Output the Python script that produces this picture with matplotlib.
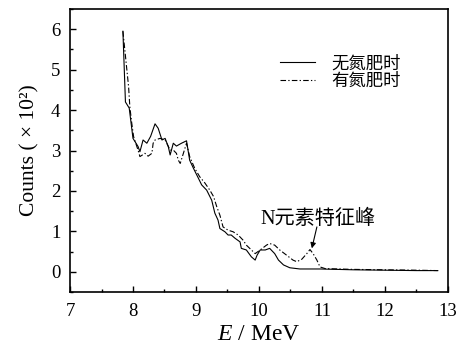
import matplotlib
matplotlib.use('Agg')
import matplotlib.pyplot as plt

plt.rcParams['font.family'] = ['Liberation Serif', 'Noto Sans CJK SC']
plt.rcParams['mathtext.fontset'] = 'custom'
plt.rcParams['mathtext.rm'] = 'Liberation Serif'
plt.rcParams['mathtext.it'] = 'Liberation Serif:italic'

# spectrum without N fertilizer (solid)
e_no = [7.84, 7.88, 7.94, 8.00, 8.08, 8.11, 8.16, 8.22, 8.28, 8.35, 8.40, 8.46,
        8.51, 8.56, 8.59, 8.64, 8.69, 8.77, 8.85, 8.90, 8.96, 9.04, 9.09, 9.17,
        9.25, 9.30, 9.35, 9.38, 9.46, 9.51, 9.56, 9.62, 9.70, 9.72, 9.80, 9.88,
        9.94, 9.97, 10.02, 10.10, 10.17, 10.25, 10.31, 10.39, 10.49, 10.65,
        10.97, 11.5, 12.0, 12.5, 12.84]
c_no = [5.95, 4.20, 4.05, 3.30, 3.10, 2.97, 3.26, 3.18, 3.35, 3.66, 3.55, 3.26,
        3.30, 3.10, 2.89, 3.18, 3.11, 3.18, 3.24, 2.76, 2.56, 2.31, 2.15, 2.02,
        1.77, 1.45, 1.28, 1.07, 0.99, 0.91, 0.91, 0.83, 0.74, 0.58, 0.54, 0.37,
        0.29, 0.41, 0.54, 0.54, 0.58, 0.45, 0.29, 0.17, 0.10, 0.07,
        0.07, 0.05, 0.04, 0.03, 0.03]

# spectrum with N fertilizer (dash-dot)
e_n = [7.84, 7.93, 7.95, 7.98, 8.01, 8.08, 8.11, 8.19, 8.24, 8.30, 8.32, 8.35,
       8.43, 8.51, 8.59, 8.64, 8.69, 8.72, 8.75, 8.80, 8.85, 8.90, 8.98, 9.06,
       9.14, 9.22, 9.28, 9.33, 9.38, 9.43, 9.51, 9.59, 9.67, 9.75, 9.80, 9.88,
       9.94, 10.02, 10.12, 10.17, 10.25, 10.33, 10.44, 10.54, 10.60, 10.68,
       10.76, 10.81, 10.86, 10.92, 10.97, 11.05, 11.5, 12.0, 12.5, 12.84]
c_n = [5.95, 4.58, 4.08, 3.68, 3.34, 3.01, 2.85, 2.93, 2.86, 2.93, 3.18, 3.26,
       3.30, 3.26, 3.01, 3.01, 2.93, 2.76, 2.68, 2.93, 3.18, 2.85, 2.56, 2.35,
       2.20, 2.02, 1.86, 1.61, 1.40, 1.11, 1.03, 0.99, 0.91, 0.78, 0.66, 0.54,
       0.45, 0.54, 0.66, 0.70, 0.66, 0.54, 0.41, 0.29, 0.25, 0.31,
       0.45, 0.55, 0.45, 0.29, 0.12, 0.08, 0.06, 0.05, 0.04, 0.03]

labels = ['无氮肥时', '有氮肥时']

fig = plt.figure(figsize=(4.68, 3.46), dpi=100)
ax = fig.add_axes([0.1496, 0.156, 0.8074, 0.818])

ax.plot(e_no, c_no, color='black', lw=0.8, label=labels[0])
ax.plot(e_n, c_n, color='black', lw=0.8, dashes=(5, 2, 1.2, 2), label=labels[1])

ax.set_xlim(7, 13)
ax.set_ylim(-0.5, 6.5)
ax.set_xticks(range(7, 14))
ax.set_yticks(range(0, 7))
ax.set_xticks([x + 0.5 for x in range(7, 13)], minor=True)
ax.set_yticks([y + 0.5 for y in range(-1, 7)], minor=True)
ax.tick_params(which='both', direction='in', labelsize=13.5, width=1)
ax.tick_params(which='major', length=4)
ax.tick_params(which='minor', length=2)
ax.tick_params(axis='x', pad=8)
ax.tick_params(axis='y', pad=7)
for sp in ax.spines.values():
    sp.set_linewidth(1.2)

ax.set_xlabel('$E$ / MeV', fontsize=17, labelpad=3)
ax.set_ylabel('Counts ( × 10²)', fontsize=15.5, labelpad=8)

leg = ax.legend(loc='upper left', bbox_to_anchor=(0.556, 0.84), frameon=False,
                prop={'family': 'Noto Sans CJK SC', 'size': 12.5},
                handlelength=2.0, handletextpad=0.95, labelspacing=0.0,
                borderpad=0, borderaxespad=0)

ax.text(10.02, 1.30, 'N元素特征峰', fontsize=14.5, va='center', ha='left',
        family=['Liberation Serif', 'Noto Sans CJK SC'])
ax.annotate('', xy=(10.84, 0.58), xytext=(10.92, 1.11),
            arrowprops=dict(arrowstyle='-|>', color='black', lw=0.8,
                            mutation_scale=8, shrinkA=0, shrinkB=0))

fig.savefig('out.png', dpi=100)
